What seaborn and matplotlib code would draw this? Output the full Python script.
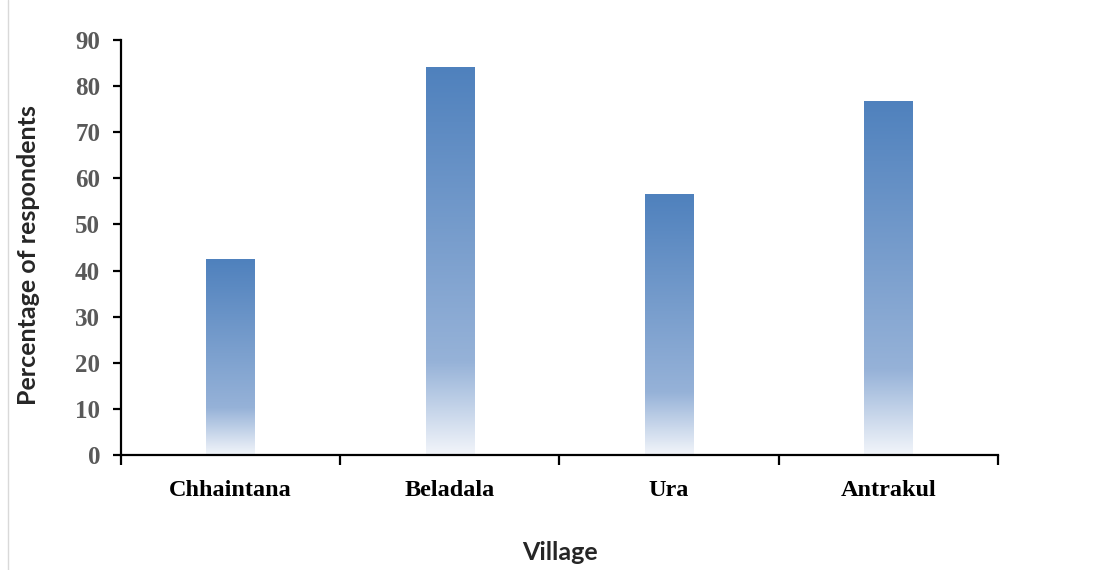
import numpy as np
import pandas as pd
import matplotlib
matplotlib.use("Agg")
import matplotlib.pyplot as plt
from matplotlib.colors import LinearSegmentedColormap
from matplotlib.lines import Line2D
import seaborn as sns

villages = ["Chhaintana", "Beladala", "Ura", "Antrakul"]
percentages = [42.5, 84.1, 56.6, 76.8]
y_ticks = [0, 10, 20, 30, 40, 50, 60, 70, 80, 90]

sns.set_theme(style="white")
plt.rcParams["font.family"] = ["Liberation Serif", "DejaVu Serif"]

df = pd.DataFrame({"Village": villages, "Percentage": percentages})

fig = plt.figure(figsize=(11.07, 5.70), dpi=100)
ax = fig.add_axes([0.1093, 0.2018, 0.7922, 0.7280])

sns.barplot(data=df, x="Village", y="Percentage", ax=ax, width=0.22,
            color="#4F81BD", edgecolor="none", saturation=1)

# vertical gradient fill: dark blue at top, lighter, fading to white at the base
grad = LinearSegmentedColormap.from_list(
    "bar_grad",
    [(0.0, (242/255, 245/255, 250/255)),
     (0.24, (150/255, 178/255, 216/255)),
     (1.0, (79/255, 129/255, 189/255))])
ax.set_xlim(-0.5, 3.5)
ax.set_ylim(0, 90)
for p in ax.patches:
    x0, y0 = p.get_x(), p.get_y()
    w, h = p.get_width(), p.get_height()
    p.set_facecolor("none")
    g = np.linspace(0, 1, 256).reshape(-1, 1)
    im = ax.imshow(g, cmap=grad, origin="lower", aspect="auto",
                   extent=[x0, x0 + w, y0, y0 + h], zorder=2)
    im.set_clip_path(p)
ax.set_xlim(-0.5, 3.5)
ax.set_ylim(0, 90)

for s in ["top", "right"]:
    ax.spines[s].set_visible(False)
for s in ["left", "bottom"]:
    ax.spines[s].set_color("black")
    ax.spines[s].set_linewidth(1.6)

ax.set_yticks(y_ticks)
ax.set_yticklabels([str(t) for t in y_ticks], fontsize=18, fontweight="bold",
                   color="#595959")
ax.tick_params(axis="y", direction="out", length=6, width=1.6, color="black",
               left=True, pad=9)

ax.set_xticks(range(len(villages)))
ax.set_xticklabels(villages, fontsize=17.5, fontweight="bold", color="black")
ax.tick_params(axis="x", which="major", length=0, pad=18)
ax.set_xticks([-0.5, 0.5, 1.5, 2.5, 3.5], minor=True)
ax.tick_params(axis="x", which="minor", direction="out", length=7, width=1.6,
               color="black", bottom=True)

ax.set_xlabel("Village", fontsize=18, fontweight="bold", family="Lato",
              va="center")
ax.xaxis.set_label_coords(0.5, -0.236)
ax.set_ylabel("Percentage of respondents", fontsize=18, fontweight="bold",
              family="Lato", va="center")
ax.yaxis.set_label_coords(-0.106, 0.482)

fig.add_artist(Line2D([8 / 1107, 8 / 1107], [0, 1], transform=fig.transFigure,
                      color="#D9D9D9", linewidth=1))

fig.savefig("out.png", dpi=100)
